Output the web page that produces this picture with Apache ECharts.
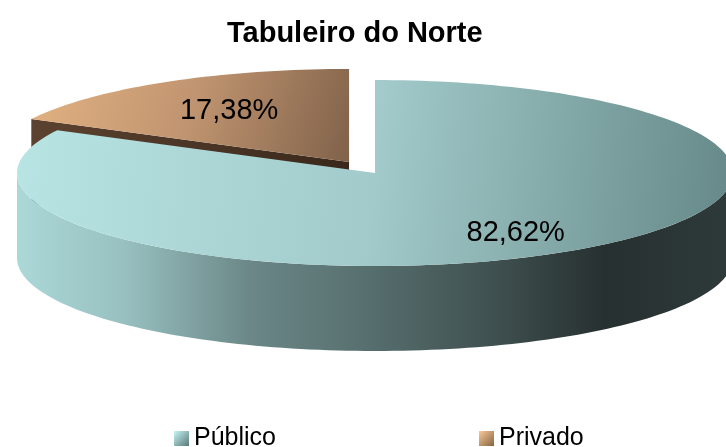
<!DOCTYPE html>
<html>
<head>
<meta charset="utf-8">
<script src="https://cdn.jsdelivr.net/npm/echarts@6/dist/echarts.min.js"></script>
<style>
  html, body { margin: 0; padding: 0; background: #fff; }
  #chart { width: 726px; height: 447px; }
</style>
</head>
<body>
<div id="chart"></div>
<script>
// dados
const categories = ['Público', 'Privado'];
const values = [82.62, 17.38];

// layout da pizza 3D (elipse + profundidade)
const pie = { cx: 375, cy: 173, rx: 358, ry: 93, depth: 85 };
const explode = [0, 50];
const labelRadius = [0.757, 0.645];

const G = echarts.graphic.LinearGradient;
const styles = [
  {
    top: new G(0, 0.3, 1, 0.7, [
      { offset: 0, color: '#b8e4e4' },
      { offset: 0.5, color: '#a2caca' },
      { offset: 1, color: '#668888' }
    ]),
    side: new G(0, 0, 1, 0, [
      { offset: 0, color: '#acd8d8' },
      { offset: 0.15, color: '#98c0c0' },
      { offset: 0.33, color: '#6a8686' },
      { offset: 0.5, color: '#566d6d' },
      { offset: 0.67, color: '#3f4f4f' },
      { offset: 0.82, color: '#273030' },
      { offset: 1, color: '#2e3a3a' }
    ]),
    face: '#3f5050',
    legend: new G(0, 0, 1, 1, [
      { offset: 0, color: '#c8f6f6' },
      { offset: 1, color: '#587878' }
    ])
  },
  {
    top: new G(0, 0, 1, 1, [
      { offset: 0, color: '#e2b282' },
      { offset: 0.5, color: '#c09470' },
      { offset: 1, color: '#80624a' }
    ]),
    side: '#4a3424',
    face: new G(0, 0, 1, 0, [
      { offset: 0, color: '#5c4230' },
      { offset: 1, color: '#3a281c' }
    ]),
    legend: new G(0, 0, 1, 1, [
      { offset: 0, color: '#f8ca9a' },
      { offset: 1, color: '#86643f' }
    ])
  }
];

function fmt(v) {
  return v.toFixed(2).replace('.', ',') + '%';
}

function renderSlice(params, api) {
  const i = categories.indexOf(params.seriesName);
  const total = values.reduce((a, b) => a + b, 0);
  let start = 0;
  for (let k = 0; k < i; k++) start += values[k] / total * 360;
  const v = api.value(0);
  const end = start + v / total * 360;
  const mid = (start + end) / 2 * Math.PI / 180;
  const cx = pie.cx + explode[i] * Math.sin(mid);
  const cy = pie.cy - explode[i] * Math.cos(mid) * pie.ry / pie.rx;
  const st = styles[i];

  const pt = (deg, dy) => {
    const r = deg * Math.PI / 180;
    return [cx + pie.rx * Math.sin(r), cy - pie.ry * Math.cos(r) + (dy || 0)];
  };
  const arc = (a, b, dy) => {
    const n = Math.max(2, Math.ceil(Math.abs(b - a) / 1.5));
    const out = [];
    for (let k = 0; k <= n; k++) out.push(pt(a + (b - a) * k / n, dy));
    return out;
  };
  const face = (deg) => {
    const p = pt(deg);
    return {
      type: 'polygon',
      shape: { points: [[cx, cy], p, [p[0], p[1] + pie.depth], [cx, cy + pie.depth]] },
      style: { fill: st.face }
    };
  };

  const children = [];
  const s = start % 360, e = end % 360;
  if (s > 180) children.push(face(start));
  if (e > 0 && e < 180) children.push(face(end));
  const a = Math.max(start, 90), b = Math.min(end, 270);
  if (b > a) {
    children.push({
      type: 'polygon',
      shape: { points: arc(a, b, 0).concat(arc(b, a, pie.depth)) },
      style: { fill: st.side }
    });
  }
  children.push({
    type: 'polygon',
    shape: { points: [[cx, cy]].concat(arc(start, end, 0)) },
    style: { fill: st.top }
  });
  const k = labelRadius[i];
  children.push({
    type: 'text',
    style: {
      text: fmt(v),
      x: cx + pie.rx * k * Math.sin(mid),
      y: cy - pie.ry * k * Math.cos(mid),
      align: 'center',
      verticalAlign: 'middle',
      fontSize: 29,
      fontFamily: 'Liberation Sans',
      fill: '#000'
    }
  });
  return { type: 'group', children: children };
}

// ordem de desenho: fatia de trás primeiro
const drawOrder = [1, 0];
const series = drawOrder.map(i => ({
  type: 'custom',
  name: categories[i],
  coordinateSystem: 'none',
  renderItem: renderSlice,
  itemStyle: { color: styles[i].legend },
  data: [values[i]],
  silent: true
}));

const chart = echarts.init(document.getElementById('chart'));
chart.setOption({
  animation: false,
  title: {
    text: 'Tabuleiro do Norte',
    left: 227,
    top: 19,
    padding: 0,
    textStyle: {
      fontFamily: 'Liberation Sans',
      fontSize: 29,
      fontWeight: 'bold',
      color: '#000'
    }
  },
  legend: {
    data: categories,
    left: 174,
    top: 426,
    padding: 0,
    icon: 'rect',
    itemWidth: 15,
    itemHeight: 15,
    itemGap: 203,
    selectedMode: false,
    textStyle: {
      fontFamily: 'Liberation Sans',
      fontSize: 25,
      color: '#000'
    }
  },
  series: series
});
</script>
</body>
</html>
